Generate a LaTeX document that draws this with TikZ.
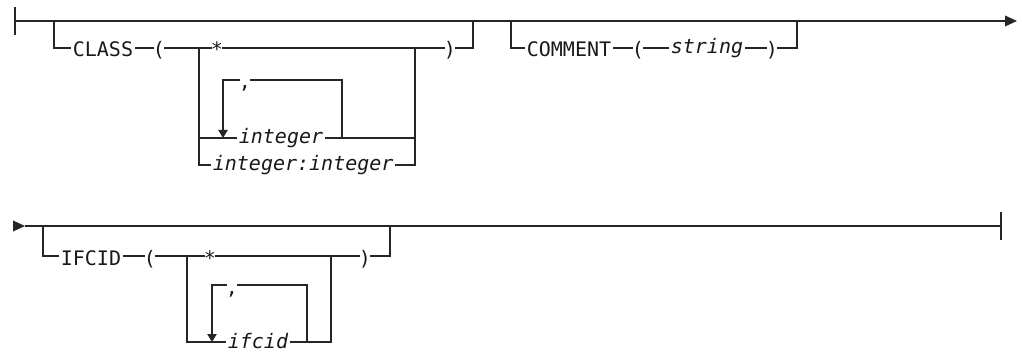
\documentclass[tikz,border=0pt]{standalone}
\usepackage{fontspec}
\setmonofont{DejaVu Sans Mono}
\usetikzlibrary{positioning,arrows.meta}
\newcommand\railfont{\fontsize{15}{18}\selectfont\ttfamily}

\begin{document}
\begin{tikzpicture}[
  x=0.75pt, y=-0.75pt,
  rail/.style={draw=black!85, line width=1pt},
  railbold/.style={draw=black!85, line width=1.6pt},
  railtip/.style={rail, -{Triangle[length=9pt,width=8pt]}},
  looptip/.style={rail, -{Triangle[length=6pt,width=7pt]}},
  kw/.style={
    font=\railfont, text=black!90, anchor=west,
    inner xsep=1.2pt, inner ysep=0pt,
    text height=16.5pt, text depth=3pt
  },
  kwvar/.style={kw, font=\railfont\itshape, text height=12pt},
  sym/.style={kw, anchor=center, inner xsep=-1pt}
]
\useasboundingbox (0,0) rectangle (1022,353);

% --- Pierwsza linia ---
\coordinate (startA) at (15,21);
\coordinate (endA) at (1017,21);
\draw[rail] (startA) ++(0,-14) -- ++(0,28);
\draw[railtip] (startA) -- (endA);

% --- CLASS ---
\node[kw] (class) at (71,48) {CLASS};
\node[sym] (lpA) at (159,48) {(};
\node[sym] (starA) at (217,48) {*};
\node[sym] (rpA) at (450,48) {)};
\node[sym] (commaA) at (245,80) {,};
\node[kwvar] (int) at (237,138) {integer};
\node[kwvar] (intint) at (211,165) {integer:integer};

\coordinate (classL) at (54,21);
\coordinate (classR) at (473,21);
\coordinate (classBL) at (199,48);
\coordinate (classBR) at (415,48);
\coordinate (loopAL) at (223,80);
\coordinate (loopAR) at (342,80);

\draw[rail] (classL) |- (class.west);
\draw[rail] (class.east) -- (lpA.west);
\draw[rail] (lpA.east) -- (starA.west);
\draw[rail] (starA.east) -- (rpA.west);
\draw[rail] (rpA.east) -| (classR);
\draw[rail] (classBL) |- (intint.west);
\draw[rail] (classBL |- int.west) -- (int.west);
\draw[rail] (int.east) -- (classBR |- int.east);
\draw[rail] (intint.east) -| (classBR);
\draw[rail] (loopAR |- int.east) -- (loopAR) -- (commaA.east);
\draw[looptip] (commaA.west) -| (loopAL |- int.west);

% --- COMMENT ---
\node[kw] (comment) at (525,48) {COMMENT};
\node[sym] (lpB) at (638,48) {(};
\node[kwvar] (string) at (669,48) {string};
\node[sym] (rpB) at (772,48) {)};

\coordinate (commentL) at (511,21);
\coordinate (commentR) at (797,21);

\draw[rail] (commentL) |- (comment.west);
\draw[rail] (comment.east) -- (lpB.west);
\draw[rail] (lpB.east) -- (string.west);
\draw[rail] (string.east) -- (rpB.west);
\draw[rail] (rpB.east) -| (commentR);

% --- Druga linia ---
\coordinate (contB) at (13,226);
\coordinate (contB2) at (25,226);
\coordinate (endB) at (1001,226);
\draw[railtip] (contB) -- (contB2);
\draw[rail] (contB2) -- (endB);
\draw[rail] (endB) ++(0,-14) -- ++(0,28);

% --- IFCID ---
\node[kw] (ifcidkw) at (59,256) {IFCID};
\node[sym] (lpC) at (150,256) {(};
\node[sym] (starC) at (210,256) {*};
\node[sym] (rpC) at (365,256) {)};
\node[sym] (commaC) at (232,285) {,};
\node[kwvar] (ifcid) at (226,342) {ifcid};

\coordinate (ifcL) at (43,226);
\coordinate (ifcR) at (390,226);
\coordinate (ifcBL) at (187,256);
\coordinate (ifcBR) at (331,256);
\coordinate (loopCL) at (212,285);
\coordinate (loopCR) at (307,285);
\coordinate (boldB) at (420,226);

\draw[rail] (ifcL) |- (ifcidkw.west);
\draw[rail] (ifcidkw.east) -- (lpC.west);
\draw[rail] (lpC.east) -- (starC.west);
\draw[rail] (starC.east) -- (rpC.west);
\draw[rail] (rpC.east) -| (ifcR);
\draw[railbold] (ifcR) -- (boldB);
\draw[rail] (ifcBL) |- (ifcid.west);
\draw[rail] (ifcid.east) -| (ifcBR);
\draw[rail] (loopCR |- ifcid.east) -- (loopCR) -- (commaC.east);
\draw[looptip] (commaC.west) -| (loopCL |- ifcid.west);

\end{tikzpicture}
\end{document}
